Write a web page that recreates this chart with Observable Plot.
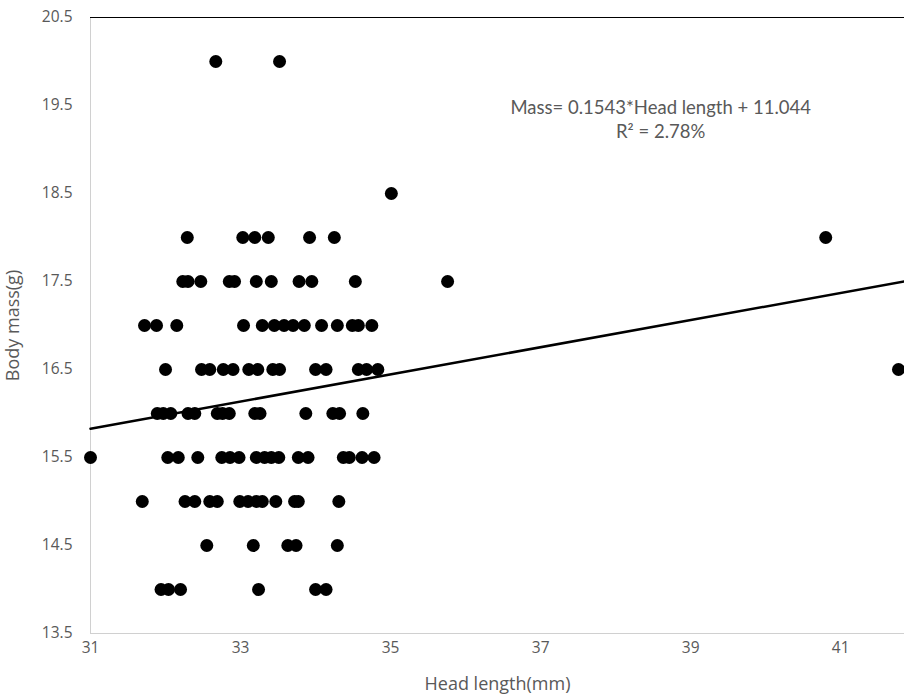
<!DOCTYPE html>
<html>
<head>
<meta charset="utf-8">
<script src="https://cdn.jsdelivr.net/npm/d3@7"></script>
<script src="https://cdn.jsdelivr.net/npm/@observablehq/plot@0.6"></script>
<style>
  html, body { margin: 0; padding: 0; background: #fff; overflow: hidden; }
</style>
</head>
<body>
<div id="chart"></div>
<script>
// Head length (mm) grouped by body mass (g) level
const mass20   = [32.67, 33.52];
const mass18_5 = [35.01];
const mass18   = [32.29, 33.03, 33.19, 33.37, 33.92, 34.25, 40.80];
const mass17_5 = [32.23, 32.30, 32.47, 32.85, 32.92, 33.21, 33.41, 33.78, 33.95, 34.53, 35.76];
const mass17   = [31.72, 31.88, 32.15, 33.04, 33.29, 33.45, 33.58, 33.70, 33.85, 34.08, 34.29, 34.49, 34.57, 34.75];
const mass16_5 = [32.00, 32.48, 32.59, 32.77, 32.90, 33.11, 33.23, 33.43, 33.52, 34.00, 34.14, 34.57, 34.68, 34.83, 41.77];
const mass16   = [31.89, 31.97, 32.07, 32.30, 32.39, 32.69, 32.76, 32.85, 33.19, 33.26, 33.87, 34.23, 34.32, 34.63];
const mass15_5 = [31.00, 32.03, 32.17, 32.43, 32.75, 32.86, 32.98, 33.21, 33.32, 33.41, 33.51, 33.77, 33.90, 34.37, 34.45, 34.62, 34.78];
const mass15   = [31.69, 32.26, 32.39, 32.59, 32.69, 32.99, 33.10, 33.21, 33.29, 33.47, 33.72, 33.77, 34.31];
const mass14_5 = [32.55, 33.17, 33.63, 33.74, 34.29];
const mass14   = [31.94, 32.04, 32.20, 33.24, 34.00, 34.14];

const massLevels = [20, 18.5, 18, 17.5, 17, 16.5, 16, 15.5, 15, 14.5, 14];
const headByLevel = [mass20, mass18_5, mass18, mass17_5, mass17, mass16_5, mass16, mass15_5, mass15, mass14_5, mass14];

const xTicks = [31, 33, 35, 37, 39, 41];
const yTicks = [13.5, 14.5, 15.5, 16.5, 17.5, 18.5, 19.5, 20.5];

const slope = 0.1543;
const intercept = 11.044;
const equationText = "Mass= 0.1543*Head length + 11.044\nR\u00b2 = 2.78%";
const xTitle = "Head length(mm)";
const yTitle = "Body mass(g)";

const xDomain = [31, 41.85];
const yDomain = [13.5, 20.5];

const points = [];
massLevels.forEach((m, i) => headByLevel[i].forEach(h => points.push({head: h, mass: m})));
const trend = xDomain.map(x => ({head: x, mass: slope * x + intercept}));

const font = "'Open Sans', 'Segoe UI', sans-serif";
const grey = "#595959";

const chart = Plot.plot({
  width: 904,
  height: 700,
  marginLeft: 90,
  marginRight: 0,
  marginTop: 17,
  marginBottom: 67,
  style: {fontFamily: font, fontSize: "15px", color: grey, background: "#fff", overflow: "visible"},
  x: {domain: xDomain, ticks: xTicks},
  y: {domain: yDomain, ticks: yTicks},
  marks: [
    Plot.axisX({ticks: xTicks, tickSize: 0, tickPadding: 8, label: null, tickFormat: d => String(d), fill: grey, fontSize: 15.5}),
    Plot.axisY({ticks: yTicks, tickSize: 0, tickPadding: 18, label: null, tickFormat: d => d.toFixed(1), fill: grey, fontSize: 15.5}),
    Plot.ruleX([xDomain[0]], {stroke: "#d0d0d0", strokeWidth: 1}),
    Plot.ruleY([yDomain[0]], {stroke: "#d0d0d0", strokeWidth: 1}),
    Plot.ruleY([yDomain[1]], {stroke: "#000", strokeWidth: 1}),
    Plot.dot(points, {x: "head", y: "mass", r: 6.5, fill: "#000", stroke: "none"}),
    Plot.line(trend, {x: "head", y: "mass", stroke: "#000", strokeWidth: 2.5}),
    Plot.text([equationText], {x: 38.6, y: 19.35, text: d => d, fill: grey, fontSize: 18.5, lineHeight: 1.3, fontFamily: "Lato, sans-serif", textAnchor: "middle"}),
    Plot.text([xTitle], {frameAnchor: "bottom", dy: 56, text: d => d, fill: grey, fontSize: 18, textAnchor: "middle"}),
    Plot.text([yTitle], {frameAnchor: "left", dx: -77, rotate: -90, text: d => d, fill: grey, fontSize: 18, textAnchor: "middle"})
  ]
});
document.getElementById("chart").appendChild(chart);
</script>
</body>
</html>
